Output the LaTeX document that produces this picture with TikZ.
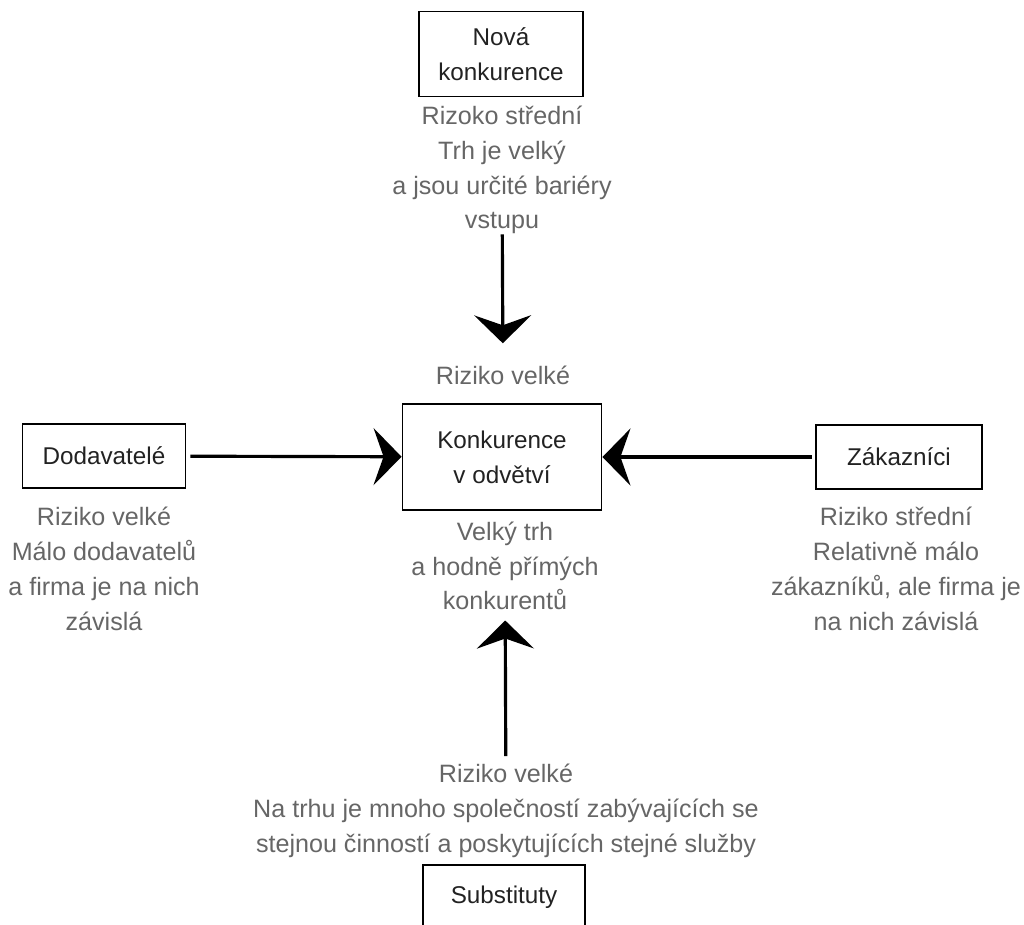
\documentclass[tikz,border=0pt]{standalone}
\usepackage{fontspec}
\setmainfont{Liberation Sans}
\usetikzlibrary{arrows.meta}
\definecolor{riskgray}{HTML}{666666}
\definecolor{boxtext}{HTML}{222222}
\begin{document}
\begin{tikzpicture}[x=0.02cm,y=-0.02cm,font=\fontsize{13.8}{19.8}\selectfont,
  force/.style={draw=black,line width=1.1pt,text=boxtext,align=center,inner sep=0pt,minimum height=1.28cm},
  note/.style={text=riskgray,align=center,inner sep=0pt,font=\fontsize{14.3}{19.8}\selectfont},
  push/.style={line width=1.8pt,-{Stealth[length=0.56cm,width=1.14cm,inset=0.2cm]}}]
\useasboundingbox (0,0) rectangle (1024,925);

% the five forces
\node[force,minimum width=3.28cm,minimum height=1.7cm] (new) at (501,54) {Nová\\konkurence};
\node[force,minimum width=3.98cm,minimum height=2.12cm] (konk) at (502,457) {Konkurence\\v odvětví};
\node[force,minimum width=3.26cm] (dod) at (104,456) {Dodavatelé};
\node[force,minimum width=3.32cm] (zak) at (899,457) {Zákazníci};
\node[force,minimum width=3.24cm] (sub) at (504,897) {Substituty};

% risk notes
\node[note] (newnote) at (502,170) {Rizoko střední\\Trh je velký\\a jsou určité bariéry\\vstupu};
\node[note] (konkrisk) at (503,375) {Riziko velké};
\node[note] (konknote) at (505,566) {Velký trh\\a hodně přímých\\konkurentů};
\node[note] (dodnote) at (104,569) {Riziko velké\\Málo dodavatelů\\a firma je na nich\\závislá};
\node[note] (zaknote) at (896,569) {Riziko střední\\Relativně málo\\zákazníků, ale firma je\\na nich závislá};
\node[note] (subnote) at (506,811) {Riziko velké\\Na trhu je mnoho společností zabývajících se\\stejnou činností a poskytujících stejné služby};

% arrows
\draw[push,shorten >=0.44cm] (newnote) -- (konkrisk);
\draw[push,shorten <=0.08cm] (dod) -- (konk);
\draw[push,shorten <=0.06cm] (zak) -- (konk);
\draw[push,shorten <=0.16cm,shorten >=0.2cm] (subnote) -- (konknote);
\end{tikzpicture}
\end{document}
